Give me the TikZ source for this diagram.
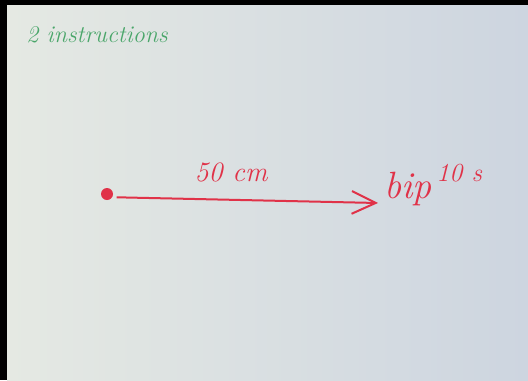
\documentclass[tikz,border=0pt]{standalone}
\usetikzlibrary{arrows.meta,positioning}
\definecolor{board}{RGB}{229,233,227}
\definecolor{boardr}{RGB}{205,213,224}
\definecolor{pen}{RGB}{224,50,72}
\definecolor{greenpen}{RGB}{74,166,106}

\begin{document}
\begin{tikzpicture}[x=0.5pt,y=-0.5pt,
hand/.style={inner sep=0pt,font=\itshape\fontsize{12}{14}\selectfont},
arr/.style={-{Straight Barb[length=4.2mm,width=4mm,line width=1pt]},pen,line width=1pt},
dotmark/.style={circle,fill=pen,minimum size=6pt,inner sep=0pt}]
\fill[black] (0,0) rectangle (528,380);
\shade[left color=board,right color=boardr] (7,5) rectangle (528,380);
\node[hand,text=greenpen] (title) at (97,35) {2 instructions};
\node[dotmark] (start) at (107,194) {};
\coordinate (stop) at (378,203);
\draw[arr,shorten <=2pt] (start.-30) -- (stop);
\node[hand,text=pen,font=\itshape\fontsize{14}{16}\selectfont] (dist) at (231,172) {50 cm};
\node[hand,text=pen,anchor=base west,font=\itshape\fontsize{19}{21}\selectfont] (bip) at (384,198) {bip\hspace{0.12em}\raisebox{1.0ex}{\fontsize{13}{15}\selectfont 10 s}};
\end{tikzpicture}
\end{document}
